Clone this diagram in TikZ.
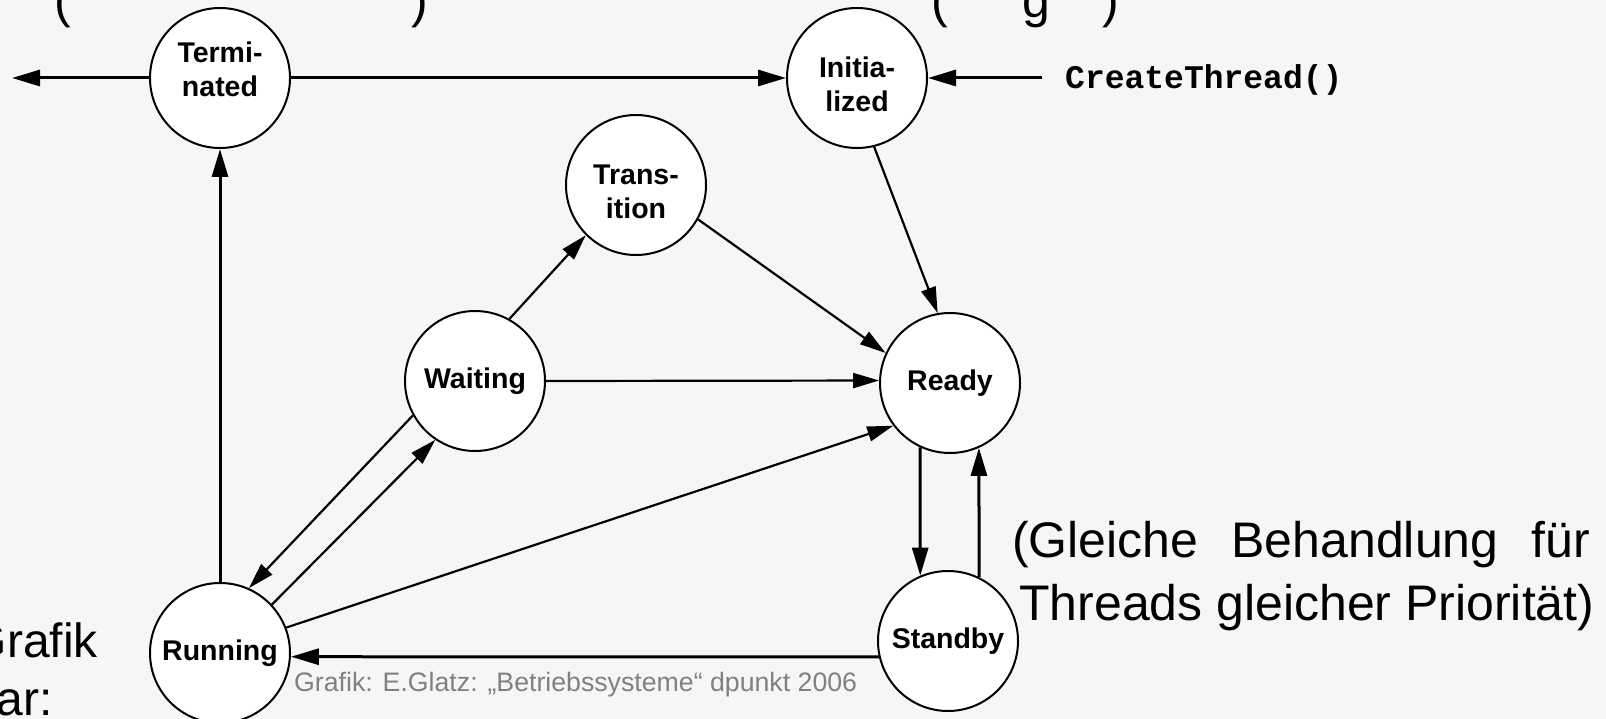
\documentclass[tikz,border=0pt]{standalone}
\usepackage{fontspec}
\setmainfont{Liberation Sans}
\newfontfamily\monof{Liberation Mono}
\usetikzlibrary{arrows.meta}
\definecolor{bgc}{RGB}{246,246,246}
\definecolor{notegray}{RGB}{128,128,128}
\begin{document}
\begin{tikzpicture}[x=1pt,y=-1pt,
  state/.style={circle,draw,line width=2pt,fill=white,minimum size=140pt,inner sep=0pt,
    font=\bfseries\fontsize{28.5}{34}\selectfont,align=center},
  arr/.style={-{Triangle[length=28pt,width=16pt]},line width=3pt},
  darr/.style={-{Triangle[length=26pt,width=15pt]},line width=2.2pt},
  bigtext/.style={font=\fontsize{50}{62}\selectfont,inner sep=0pt},
  sidetext/.style={font=\fontsize{48}{58}\selectfont,inner sep=0pt}]
\fill[bgc] (0,0) rectangle (1606,719);
\useasboundingbox (0,0) rectangle (1606,719);
% cut-off fragments of a text line above
\begin{scope}
\clip (0,0) rectangle (1606,32);
\node[bigtext,anchor=base west] (f1) at (54,18) {(};
\node[bigtext,anchor=base west] (f2) at (411,18) {)};
\node[bigtext,anchor=base west] (f3) at (931,18) {(};
\node[bigtext,anchor=base west] (f4) at (1022,18) {g};
\node[bigtext,anchor=base west] (f5) at (1102,18) {)};
\end{scope}
% states
\node[state] (T)  at (220,78)  {Termi-\\nated\rule[-18pt]{0pt}{18pt}};
\node[state] (I)  at (857,78)  {\rule{0pt}{33pt}Initia-\\lized};
\node[state] (Tr) at (636,185) {\rule{0pt}{34pt}Trans-\\ition};
\node[state] (W)  at (475,381) {Waiting};
\node[state] (R)  at (950,383) {Ready};
\node[state] (Ru) at (220,653) {Running};
\node[state] (S)  at (948,641) {Standby};
% external
\coordinate (exitT) at (12,78);
\coordinate (ctl) at (1042,78);
\node[anchor=west,inner sep=0pt,font=\monof\bfseries\fontsize{33}{34}\selectfont] (ct) at (1065,80) {CreateThread()};
% transitions
\draw[arr] (T.west) -- (exitT);
\draw[arr] (T.east) -- (I.west);
\draw[arr] (ctl) -- (I.east);
\draw[darr] (I.284) -- (R.100);
\draw[darr] (Tr.331) -- (R.155);
\draw[darr] (W.61) -- (Tr.225);
\draw[darr] (W.east) -- (R.178);
\draw[darr] (W.209) -- (Ru.66);
\draw[darr] (Ru.43) -- (W.236);
\draw[darr] (Ru.21) -- (R.217);
\draw[arr] (Ru.north) -- (T.south);
\draw[arr] (S.193) -- (Ru.357);
\draw[arr] (R.245) -- (S.113);
\draw[arr] (S.64) -- (R.294);
% texts
\node[bigtext,anchor=base west] (g1) at (1012,557) {\makebox[578pt][s]{(Gleiche Behandlung für}};
\node[bigtext,anchor=base west] (g2) at (1019,620) {Threads gleicher Priorität)};
\node[sidetext,anchor=base east] (l1) at (98,657) {Grafik};
\node[sidetext,anchor=base east] (l2) at (53,715) {ar:};
\node[anchor=base west,inner sep=0pt,text=notegray,font=\fontsize{26.7}{30}\selectfont] (fn) at (294,691) {Grafik: E.Glatz: „Betriebssysteme“ dpunkt 2006};
\end{tikzpicture}
\end{document}
